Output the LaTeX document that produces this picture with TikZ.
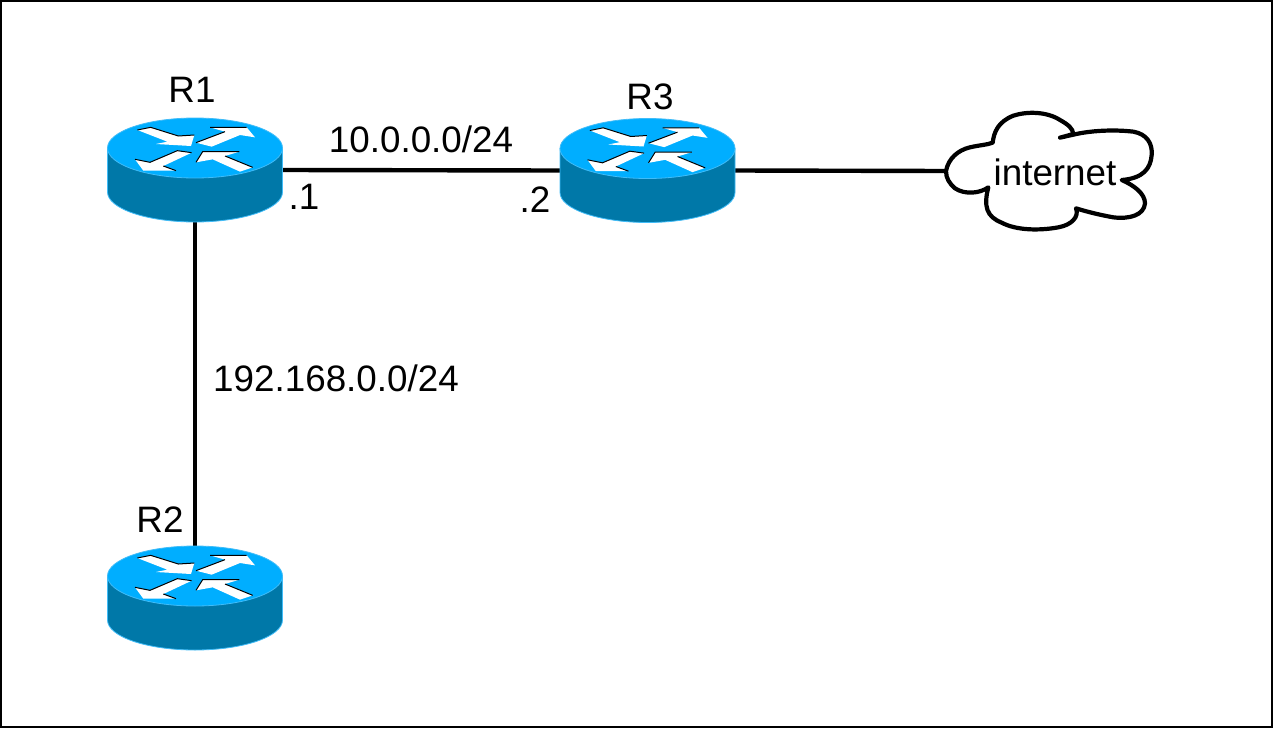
\documentclass[tikz,border=0pt]{standalone}
\usepackage{fontspec}
\setmainfont{Liberation Sans}
\definecolor{rtop}{HTML}{00AEFF}
\definecolor{rside}{HTML}{0078A8}
\definecolor{redge}{HTML}{40BCF8}
\tikzset{
  x=1pt,y=-1pt,
  anchorbox/.style={inner sep=0pt,outer sep=0pt,minimum width=175pt,minimum height=104pt},
  cloudbox/.style={inner sep=0pt,outer sep=0pt,minimum width=200pt,minimum height=120pt},
  lbl/.style={inner sep=0pt,font=\fontsize{36.8}{40}\selectfont,text=black},
  link/.style={draw=black,line width=4.4pt},
  whitearrow/.style={fill=white},
  arrowline/.style={draw=black,line width=1pt},
  router/.pic={
    \path[fill=rside,draw=redge,line width=0.8pt] (-87.5,-22) -- (-87.5,22) arc[start angle=180,end angle=0,x radius=87.5,y radius=30] -- (87.5,-22) -- cycle;
    \path[fill=rtop,draw=redge,line width=0.8pt] (0,-22) ellipse [x radius=87.5,y radius=30];
    \begin{scope}[shift={(0,-22)},scale=1/3,shift={(-315,-144)}]
      \fill[whitearrow] (142,90) -- (182,82) -- (265,108) -- (313,105) -- (303,138) -- (198,132) -- (232,125) -- cycle;
      \draw[arrowline] (142,90) -- (182,82) -- (265,108) -- (313,105);
      \fill[whitearrow] (318,128) -- (405,95) -- (360,82) -- (470,82) -- (495,112) -- (450,105) -- (365,140) -- cycle;
      \draw[arrowline] (318,128) -- (405,95) (360,82) -- (470,82);
      \fill[whitearrow] (135,178) -- (180,187) -- (262,152) -- (305,158) -- (220,198) -- (258,212) -- (160,212) -- cycle;
      \draw[arrowline] (135,178) -- (180,187) -- (262,152) -- (305,158) (220,198) -- (258,212);
      \fill[whitearrow] (318,187) -- (338,155) -- (448,155) -- (405,168) -- (488,202) -- (450,215) -- (368,178) -- cycle;
      \draw[arrowline] (318,187) -- (338,155) -- (448,155) (405,168) -- (488,202);
    \end{scope}
  }
}
\begin{document}
\begin{tikzpicture}
\useasboundingbox (0,0) rectangle (1273,728);
\fill[white] (0,0) rectangle (1273,728);
\draw[black,line width=2.4pt] (1,1) rectangle (1272,727);

\node[anchorbox] (R1) at (195,170) {};
\node[anchorbox] (R3) at (647.5,170.5) {};
\node[anchorbox] (R2) at (195,598) {};
\node[cloudbox] (cloud) at (1047,171) {};

\draw[link] (R1.east) -- (R3.west);
\draw[link] (R1.south) -- (R2.north);
\draw[link] (R3.east) -- (cloud.west);

\pic at (R1.center) {router};
\pic at (R3.center) {router};
\pic at (R2.center) {router};

\begin{scope}[shift={(930,100)},scale=1/3]
\draw[fill=white,draw=black,line width=4.2pt,line join=round]
 (48,213) .. controls (55,175) and (85,150) .. (120,142)
 .. controls (150,135) and (170,135) .. (188,128)
 .. controls (192,95) and (205,65) .. (250,47)
 .. controls (290,34) and (350,34) .. (390,60)
 .. controls (415,74) and (428,85) .. (430,102)
 -- (390,113) -- (430,104)
 .. controls (480,92) and (550,88) .. (610,95)
 .. controls (650,102) and (668,130) .. (665,165)
 .. controls (662,205) and (640,235) .. (575,240)
 .. controls (610,255) and (645,280) .. (645,310)
 .. controls (642,345) and (600,358) .. (550,352)
 .. controls (510,345) and (470,335) .. (438,325)
 .. controls (448,350) and (425,375) .. (385,382)
 .. controls (330,392) and (260,392) .. (215,368)
 .. controls (170,350) and (160,320) .. (175,262)
 .. controls (150,280) and (105,285) .. (75,265)
 .. controls (58,250) and (48,235) .. (48,213) -- cycle;
\end{scope}

\node[lbl] (tR1) at (192,90) {R1};
\node[lbl] (tR3) at (650,97) {R3};
\node[lbl] (tR2) at (160,520) {R2};
\node[lbl] (tnet1) at (421,139) {10.0.0.0/24};
\node[lbl] (tnet2) at (336,378) {192.168.0.0/24};
\node[lbl] (tdot1) at (304,197) {.1};
\node[lbl] (tdot2) at (535,200) {.2};
\node[lbl] (tinet) at (1055,172) {internet};
\end{tikzpicture}
\end{document}
